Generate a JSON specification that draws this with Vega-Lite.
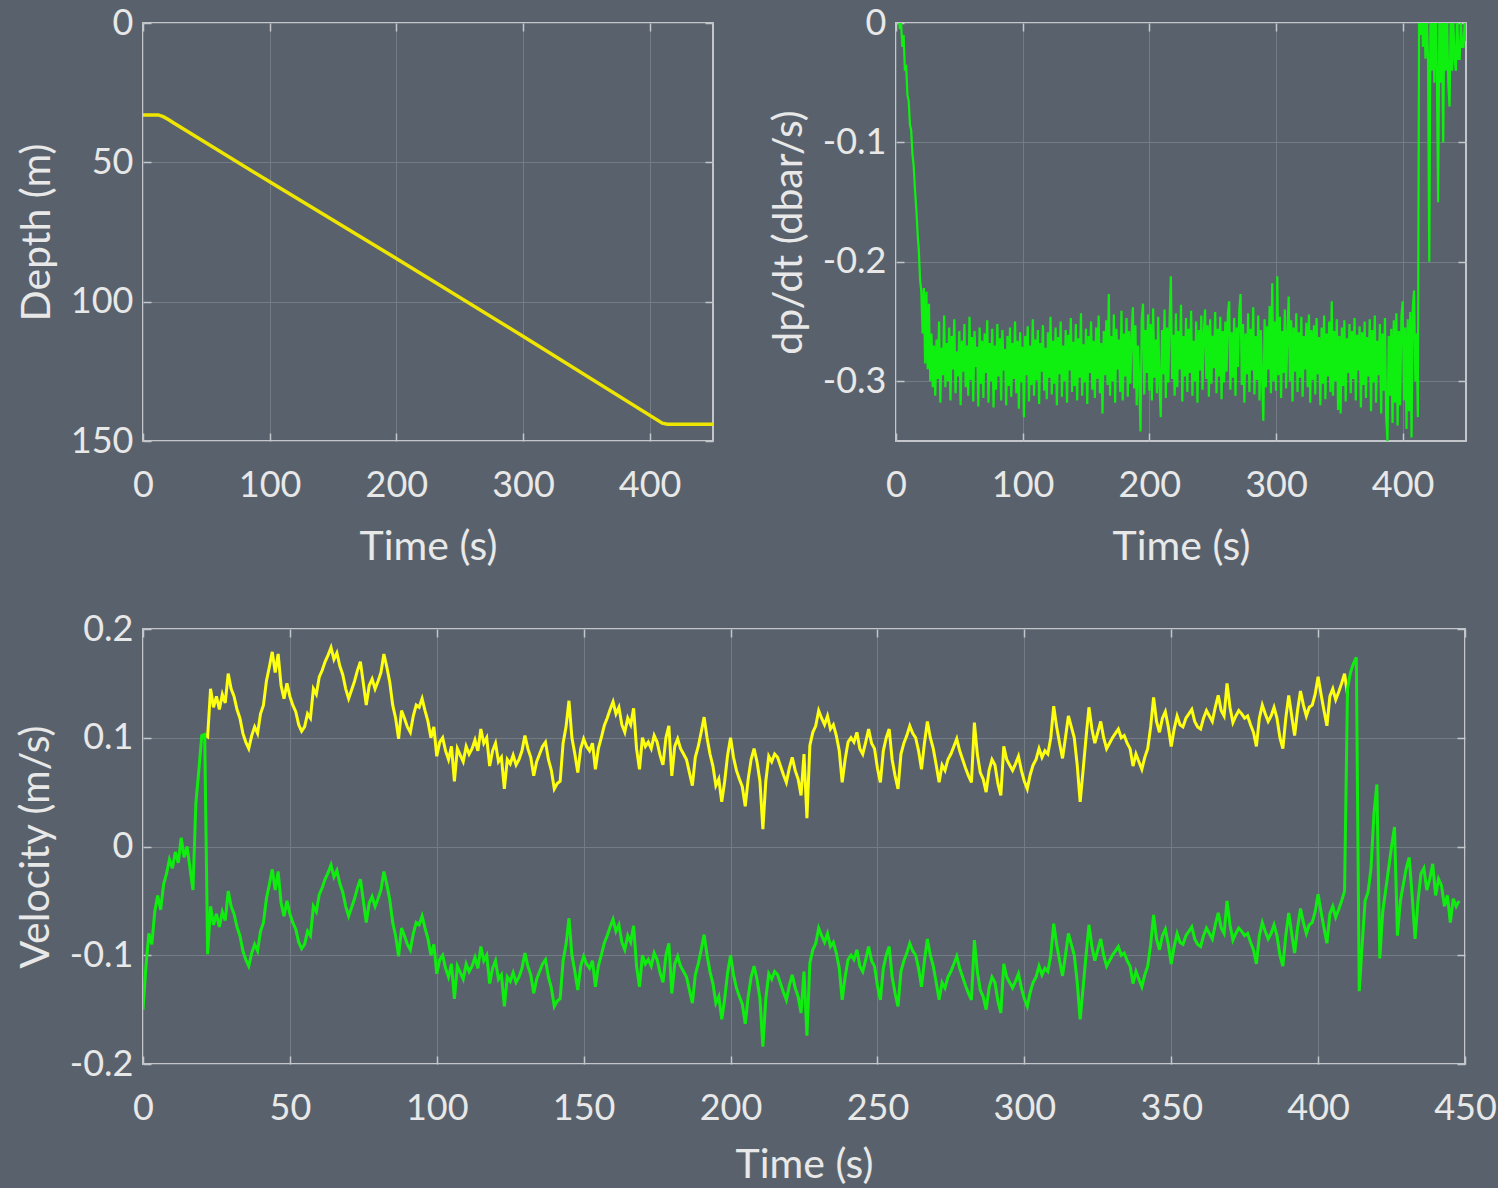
{
"$schema": "https://vega.github.io/schema/vega-lite/v6.json",
"background": "#59626c",
"padding": {"left": 14, "top": 4, "right": 4, "bottom": 4},
"spacing": 42,
"datasets": {
"depth": [{"t":0,"d":33},{"t":12,"d":33},{"t":16,"d":33.6},{"t":20,"d":34.6},{"t":24,"d":35.8},{"t":100,"d":57},{"t":200,"d":84.5},{"t":300,"d":112.4},{"t":410,"d":143.6},{"t":414,"d":144},{"t":450,"d":144}],
"dpdt": [{"t":0,"v":0.01},{"t":1,"v":0},{"t":2,"v":0.01},{"t":3,"v":-0.005},{"t":4,"v":0},{"t":5,"v":-0.02},{"t":6,"v":-0.01},{"t":7,"v":-0.04},{"t":8,"v":-0.035},{"t":9,"v":-0.06},{"t":10,"v":-0.065},{"t":11,"v":-0.085},{"t":12,"v":-0.09},{"t":13,"v":-0.11},{"t":14,"v":-0.12},{"t":15,"v":-0.14},{"t":16,"v":-0.155},{"t":17,"v":-0.175},{"t":18,"v":-0.19},{"t":19,"v":-0.215},{"t":20,"v":-0.225},{"t":21,"v":-0.26},{"t":22,"v":-0.222},{"t":23,"v":-0.285},{"t":24,"v":-0.225},{"t":25,"v":-0.29},{"t":26,"v":-0.235},{"t":27,"v":-0.3},{"t":28,"v":-0.26},{"t":29,"v":-0.305},{"t":30,"v":-0.27},
{"t":31,"v":-0.312},{"t":32,"v":-0.265},{"t":33,"v":-0.298},{"t":34,"v":-0.25},{"t":35,"v":-0.318},{"t":36,"v":-0.272},{"t":37,"v":-0.295},{"t":38,"v":-0.245},{"t":39,"v":-0.305},{"t":40,"v":-0.268},
{"t":41,"v":-0.3},{"t":42,"v":-0.255},{"t":43,"v":-0.316},{"t":44,"v":-0.262},{"t":45,"v":-0.29},{"t":46,"v":-0.248},{"t":47,"v":-0.31},{"t":48,"v":-0.275},{"t":49,"v":-0.296},{"t":50,"v":-0.258},
{"t":51,"v":-0.32},{"t":52,"v":-0.266},{"t":53,"v":-0.292},{"t":54,"v":-0.252},{"t":55,"v":-0.305},{"t":56,"v":-0.27},{"t":57,"v":-0.312},{"t":58,"v":-0.246},{"t":59,"v":-0.299},{"t":60,"v":-0.263},
{"t":61,"v":-0.317},{"t":62,"v":-0.258},{"t":63,"v":-0.288},{"t":64,"v":-0.271},{"t":65,"v":-0.321},{"t":66,"v":-0.255},{"t":67,"v":-0.302},{"t":68,"v":-0.266},{"t":69,"v":-0.314},{"t":70,"v":-0.26},
{"t":71,"v":-0.293},{"t":72,"v":-0.249},{"t":73,"v":-0.318},{"t":74,"v":-0.268},{"t":75,"v":-0.3},{"t":76,"v":-0.256},{"t":77,"v":-0.322},{"t":78,"v":-0.27},{"t":79,"v":-0.307},{"t":80,"v":-0.252},
{"t":81,"v":-0.296},{"t":82,"v":-0.264},{"t":83,"v":-0.316},{"t":84,"v":-0.257},{"t":85,"v":-0.291},{"t":86,"v":-0.273},{"t":87,"v":-0.32},{"t":88,"v":-0.262},{"t":89,"v":-0.304},{"t":90,"v":-0.255},
{"t":91,"v":-0.313},{"t":92,"v":-0.268},{"t":93,"v":-0.298},{"t":94,"v":-0.25},{"t":95,"v":-0.31},{"t":96,"v":-0.266},{"t":97,"v":-0.323},{"t":98,"v":-0.259},{"t":99,"v":-0.301},{"t":100,"v":-0.271},
{"t":101,"v":-0.33},{"t":102,"v":-0.262},{"t":103,"v":-0.295},{"t":104,"v":-0.254},{"t":105,"v":-0.317},{"t":106,"v":-0.27},{"t":107,"v":-0.303},{"t":108,"v":-0.248},{"t":109,"v":-0.312},{"t":110,"v":-0.265},
{"t":111,"v":-0.299},{"t":112,"v":-0.257},{"t":113,"v":-0.319},{"t":114,"v":-0.268},{"t":115,"v":-0.292},{"t":116,"v":-0.253},{"t":117,"v":-0.308},{"t":118,"v":-0.272},{"t":119,"v":-0.315},{"t":120,"v":-0.259},
{"t":121,"v":-0.297},{"t":122,"v":-0.246},{"t":123,"v":-0.311},{"t":124,"v":-0.266},{"t":125,"v":-0.302},{"t":126,"v":-0.255},{"t":127,"v":-0.32},{"t":128,"v":-0.263},{"t":129,"v":-0.294},{"t":130,"v":-0.25},
{"t":131,"v":-0.313},{"t":132,"v":-0.27},{"t":133,"v":-0.3},{"t":134,"v":-0.257},{"t":135,"v":-0.318},{"t":136,"v":-0.261},{"t":137,"v":-0.291},{"t":138,"v":-0.247},{"t":139,"v":-0.309},{"t":140,"v":-0.267},
{"t":141,"v":-0.304},{"t":142,"v":-0.252},{"t":143,"v":-0.316},{"t":144,"v":-0.264},{"t":145,"v":-0.297},{"t":146,"v":-0.243},{"t":147,"v":-0.312},{"t":148,"v":-0.269},{"t":149,"v":-0.301},{"t":150,"v":-0.256},
{"t":151,"v":-0.319},{"t":152,"v":-0.262},{"t":153,"v":-0.293},{"t":154,"v":-0.25},{"t":155,"v":-0.307},{"t":156,"v":-0.266},{"t":157,"v":-0.314},{"t":158,"v":-0.255},{"t":159,"v":-0.298},{"t":160,"v":-0.245},
{"t":161,"v":-0.31},{"t":162,"v":-0.268},{"t":163,"v":-0.327},{"t":164,"v":-0.258},{"t":165,"v":-0.295},{"t":166,"v":-0.249},{"t":167,"v":-0.303},{"t":168,"v":-0.227},{"t":169,"v":-0.312},{"t":170,"v":-0.262},
{"t":171,"v":-0.3},{"t":172,"v":-0.244},{"t":173,"v":-0.318},{"t":174,"v":-0.256},{"t":175,"v":-0.29},{"t":176,"v":-0.265},{"t":177,"v":-0.309},{"t":178,"v":-0.241},{"t":179,"v":-0.316},{"t":180,"v":-0.26},
{"t":181,"v":-0.296},{"t":182,"v":-0.247},{"t":183,"v":-0.313},{"t":184,"v":-0.258},{"t":185,"v":-0.302},{"t":186,"v":-0.262},{"t":187,"v":-0.238},{"t":188,"v":-0.306},{"t":189,"v":-0.253},{"t":190,"v":-0.32},
{"t":191,"v":-0.27},{"t":192,"v":-0.299},{"t":193,"v":-0.342},{"t":194,"v":-0.248},{"t":195,"v":-0.235},{"t":196,"v":-0.311},{"t":197,"v":-0.257},{"t":198,"v":-0.293},{"t":199,"v":-0.244},{"t":200,"v":-0.308},
{"t":201,"v":-0.252},{"t":202,"v":-0.316},{"t":203,"v":-0.239},{"t":204,"v":-0.297},{"t":205,"v":-0.265},{"t":206,"v":-0.31},{"t":207,"v":-0.246},{"t":208,"v":-0.302},{"t":209,"v":-0.33},{"t":210,"v":-0.257},
{"t":211,"v":-0.294},{"t":212,"v":-0.24},{"t":213,"v":-0.314},{"t":214,"v":-0.255},{"t":215,"v":-0.301},{"t":216,"v":-0.249},{"t":217,"v":-0.212},{"t":218,"v":-0.298},{"t":219,"v":-0.261},{"t":220,"v":-0.312},
{"t":221,"v":-0.243},{"t":222,"v":-0.305},{"t":223,"v":-0.258},{"t":224,"v":-0.29},{"t":225,"v":-0.236},{"t":226,"v":-0.317},{"t":227,"v":-0.262},{"t":228,"v":-0.296},{"t":229,"v":-0.247},{"t":230,"v":-0.309},
{"t":231,"v":-0.256},{"t":232,"v":-0.293},{"t":233,"v":-0.241},{"t":234,"v":-0.312},{"t":235,"v":-0.266},{"t":236,"v":-0.3},{"t":237,"v":-0.25},{"t":238,"v":-0.318},{"t":239,"v":-0.257},{"t":240,"v":-0.291},
{"t":241,"v":-0.245},{"t":242,"v":-0.307},{"t":243,"v":-0.26},{"t":244,"v":-0.24},{"t":245,"v":-0.298},{"t":246,"v":-0.253},{"t":247,"v":-0.313},{"t":248,"v":-0.248},{"t":249,"v":-0.302},{"t":250,"v":-0.262},
{"t":251,"v":-0.289},{"t":252,"v":-0.242},{"t":253,"v":-0.31},{"t":254,"v":-0.256},{"t":255,"v":-0.296},{"t":256,"v":-0.246},{"t":257,"v":-0.315},{"t":258,"v":-0.258},{"t":259,"v":-0.301},{"t":260,"v":-0.25},
{"t":261,"v":-0.292},{"t":262,"v":-0.244},{"t":263,"v":-0.233},{"t":264,"v":-0.307},{"t":265,"v":-0.259},{"t":266,"v":-0.297},{"t":267,"v":-0.247},{"t":268,"v":-0.312},{"t":269,"v":-0.255},{"t":270,"v":-0.288},
{"t":271,"v":-0.241},{"t":272,"v":-0.227},{"t":273,"v":-0.303},{"t":274,"v":-0.252},{"t":275,"v":-0.318},{"t":276,"v":-0.26},{"t":277,"v":-0.294},{"t":278,"v":-0.243},{"t":279,"v":-0.309},{"t":280,"v":-0.256},
{"t":281,"v":-0.291},{"t":282,"v":-0.238},{"t":283,"v":-0.311},{"t":284,"v":-0.262},{"t":285,"v":-0.299},{"t":286,"v":-0.245},{"t":287,"v":-0.316},{"t":288,"v":-0.257},{"t":289,"v":-0.296},{"t":290,"v":-0.333},
{"t":291,"v":-0.248},{"t":292,"v":-0.305},{"t":293,"v":-0.254},{"t":294,"v":-0.29},{"t":295,"v":-0.237},{"t":296,"v":-0.31},{"t":297,"v":-0.218},{"t":298,"v":-0.3},{"t":299,"v":-0.25},{"t":300,"v":-0.308},
{"t":301,"v":-0.212},{"t":302,"v":-0.295},{"t":303,"v":-0.246},{"t":304,"v":-0.314},{"t":305,"v":-0.258},{"t":306,"v":-0.293},{"t":307,"v":-0.24},{"t":308,"v":-0.306},{"t":309,"v":-0.261},{"t":310,"v":-0.229},
{"t":311,"v":-0.3},{"t":312,"v":-0.249},{"t":313,"v":-0.317},{"t":314,"v":-0.255},{"t":315,"v":-0.292},{"t":316,"v":-0.243},{"t":317,"v":-0.309},{"t":318,"v":-0.259},{"t":319,"v":-0.297},{"t":320,"v":-0.246},
{"t":321,"v":-0.313},{"t":322,"v":-0.262},{"t":323,"v":-0.29},{"t":324,"v":-0.251},{"t":325,"v":-0.305},{"t":326,"v":-0.244},{"t":327,"v":-0.318},{"t":328,"v":-0.257},{"t":329,"v":-0.299},{"t":330,"v":-0.253},
{"t":331,"v":-0.311},{"t":332,"v":-0.247},{"t":333,"v":-0.294},{"t":334,"v":-0.263},{"t":335,"v":-0.32},{"t":336,"v":-0.255},{"t":337,"v":-0.302},{"t":338,"v":-0.245},{"t":339,"v":-0.315},{"t":340,"v":-0.26},
{"t":341,"v":-0.296},{"t":342,"v":-0.25},{"t":343,"v":-0.309},{"t":344,"v":-0.233},{"t":345,"v":-0.312},{"t":346,"v":-0.258},{"t":347,"v":-0.3},{"t":348,"v":-0.248},{"t":349,"v":-0.324},{"t":350,"v":-0.262},
{"t":351,"v":-0.327},{"t":352,"v":-0.255},{"t":353,"v":-0.304},{"t":354,"v":-0.249},{"t":355,"v":-0.317},{"t":356,"v":-0.264},{"t":357,"v":-0.293},{"t":358,"v":-0.252},{"t":359,"v":-0.31},{"t":360,"v":-0.258},
{"t":361,"v":-0.298},{"t":362,"v":-0.247},{"t":363,"v":-0.316},{"t":364,"v":-0.261},{"t":365,"v":-0.291},{"t":366,"v":-0.254},{"t":367,"v":-0.322},{"t":368,"v":-0.259},{"t":369,"v":-0.303},{"t":370,"v":-0.25},
{"t":371,"v":-0.314},{"t":372,"v":-0.263},{"t":373,"v":-0.296},{"t":374,"v":-0.248},{"t":375,"v":-0.325},{"t":376,"v":-0.257},{"t":377,"v":-0.301},{"t":378,"v":-0.245},{"t":379,"v":-0.318},{"t":380,"v":-0.266},
{"t":381,"v":-0.295},{"t":382,"v":-0.252},{"t":383,"v":-0.327},{"t":384,"v":-0.26},{"t":385,"v":-0.308},{"t":386,"v":-0.247},{"t":387,"v":-0.33},{"t":388,"v":-0.35},{"t":389,"v":-0.262},{"t":390,"v":-0.312},
{"t":391,"v":-0.256},{"t":392,"v":-0.335},{"t":393,"v":-0.249},{"t":394,"v":-0.318},{"t":395,"v":-0.243},{"t":396,"v":-0.337},{"t":397,"v":-0.258},{"t":398,"v":-0.32},{"t":399,"v":-0.246},{"t":400,"v":-0.233},
{"t":401,"v":-0.316},{"t":402,"v":-0.255},{"t":403,"v":-0.34},{"t":404,"v":-0.248},{"t":405,"v":-0.325},{"t":406,"v":-0.242},{"t":407,"v":-0.347},{"t":408,"v":-0.238},{"t":409,"v":-0.224},{"t":410,"v":-0.3},
{"t":411,"v":-0.26},{"t":412,"v":-0.33},{"t":413,"v":0.02},{"t":414,"v":-0.01},{"t":415,"v":0.03},{"t":416,"v":-0.02},{"t":417,"v":0.02},{"t":418,"v":-0.03},{"t":419,"v":0.01},{"t":420,"v":-0.03},
{"t":421,"v":-0.2},{"t":422,"v":0.02},{"t":423,"v":-0.04},{"t":424,"v":0.01},{"t":425,"v":-0.05},{"t":426,"v":0.02},{"t":427,"v":-0.04},{"t":428,"v":-0.15},{"t":429,"v":0.01},{"t":430,"v":-0.05},
{"t":431,"v":0},{"t":432,"v":-0.1},{"t":433,"v":0.02},{"t":434,"v":-0.04},{"t":435,"v":0.01},{"t":436,"v":-0.05},{"t":437,"v":-0.07},{"t":438,"v":0.01},{"t":439,"v":-0.04},{"t":440,"v":0},
{"t":441,"v":-0.03},{"t":442,"v":-0.04},{"t":443,"v":0.01},{"t":444,"v":-0.03},{"t":445,"v":-0.03},{"t":446,"v":0},{"t":447,"v":-0.02},{"t":448,"v":-0.02},{"t":449,"v":0},{"t":450,"v":-0.015}],
"vel": [{"t":0,"g":-0.15},{"t":1,"g":-0.11},{"t":2,"g":-0.08},{"t":3,"g":-0.09},{"t":4,"g":-0.06},{"t":5,"g":-0.045},{"t":6,"g":-0.058},{"t":7,"g":-0.035},{"t":8,"g":-0.025},{"t":9,"g":-0.012},{"t":10,"g":-0.02},{"t":11,"g":-0.005},{"t":12,"g":-0.015},{"t":13,"g":0.008},{"t":14,"g":-0.01},{"t":15,"g":0},{"t":16,"g":-0.02},{"t":17,"g":-0.04},{"t":18,"g":0.04},{"t":19,"g":0.07},{"t":20,"g":0.102},
{"t":21,"y":0.103,"g":0.103},{"t":22,"y":0.101,"g":-0.099},{"t":23,"y":0.145,"g":-0.055},{"t":24,"y":0.128,"g":-0.072},{"t":25,"y":0.138,"g":-0.062},{"t":26,"y":0.126,"g":-0.074},{"t":27,"y":0.14,"g":-0.06},{"t":28,"y":0.132,"g":-0.068},{"t":29,"y":0.159,"g":-0.041},{"t":30,"y":0.145,"g":-0.055},
{"t":31,"y":0.138,"g":-0.062},{"t":32,"y":0.126,"g":-0.074},{"t":33,"y":0.118,"g":-0.082},{"t":34,"y":0.104,"g":-0.096},{"t":35,"y":0.096,"g":-0.104},{"t":36,"y":0.09,"g":-0.11},{"t":37,"y":0.102,"g":-0.098},{"t":38,"y":0.11,"g":-0.09},{"t":39,"y":0.104,"g":-0.096},{"t":40,"y":0.122,"g":-0.078},
{"t":41,"y":0.13,"g":-0.07},{"t":42,"y":0.152,"g":-0.048},{"t":43,"y":0.165,"g":-0.035},{"t":44,"y":0.179,"g":-0.021},{"t":45,"y":0.16,"g":-0.04},{"t":46,"y":0.177,"g":-0.023},{"t":47,"y":0.148,"g":-0.052},{"t":48,"y":0.136,"g":-0.064},{"t":49,"y":0.15,"g":-0.05},{"t":50,"y":0.138,"g":-0.062},
{"t":51,"y":0.13,"g":-0.07},{"t":52,"y":0.124,"g":-0.076},{"t":53,"y":0.112,"g":-0.088},{"t":54,"y":0.106,"g":-0.094},{"t":55,"y":0.11,"g":-0.09},{"t":56,"y":0.122,"g":-0.078},{"t":57,"y":0.118,"g":-0.082},{"t":58,"y":0.145,"g":-0.055},{"t":59,"y":0.14,"g":-0.06},{"t":60,"y":0.156,"g":-0.044},
{"t":61,"y":0.162,"g":-0.038},{"t":62,"y":0.17,"g":-0.03},{"t":63,"y":0.176,"g":-0.024},{"t":64,"y":0.183,"g":-0.017},{"t":65,"y":0.172,"g":-0.028},{"t":66,"y":0.178,"g":-0.022},{"t":67,"y":0.166,"g":-0.034},{"t":68,"y":0.158,"g":-0.042},{"t":69,"y":0.145,"g":-0.055},{"t":70,"y":0.136,"g":-0.064},
{"t":71,"y":0.144,"g":-0.056},{"t":72,"y":0.152,"g":-0.048},{"t":73,"y":0.162,"g":-0.038},{"t":74,"y":0.17,"g":-0.03},{"t":75,"y":0.15,"g":-0.05},{"t":76,"y":0.13,"g":-0.07},{"t":77,"y":0.148,"g":-0.052},{"t":78,"y":0.154,"g":-0.046},{"t":79,"y":0.145,"g":-0.055},{"t":80,"y":0.152,"g":-0.048},
{"t":81,"y":0.16,"g":-0.04},{"t":82,"y":0.177,"g":-0.023},{"t":83,"y":0.165,"g":-0.035},{"t":84,"y":0.151,"g":-0.049},{"t":85,"y":0.13,"g":-0.07},{"t":86,"y":0.118,"g":-0.082},{"t":87,"y":0.099,"g":-0.101},{"t":88,"y":0.125,"g":-0.075},{"t":89,"y":0.118,"g":-0.082},{"t":90,"y":0.11,"g":-0.09},
{"t":91,"y":0.105,"g":-0.095},{"t":92,"y":0.12,"g":-0.08},{"t":93,"y":0.13,"g":-0.07},{"t":94,"y":0.128,"g":-0.072},{"t":95,"y":0.136,"g":-0.064},{"t":96,"y":0.125,"g":-0.075},{"t":97,"y":0.115,"g":-0.085},{"t":98,"y":0.1,"g":-0.1},{"t":99,"y":0.11,"g":-0.09},{"t":100,"y":0.083,"g":-0.117},
{"t":101,"y":0.096,"g":-0.104},{"t":102,"y":0.1,"g":-0.1},{"t":103,"y":0.088,"g":-0.112},{"t":104,"y":0.08,"g":-0.12},{"t":105,"y":0.092,"g":-0.108},{"t":106,"y":0.06,"g":-0.14},{"t":107,"y":0.09,"g":-0.11},{"t":108,"y":0.084,"g":-0.116},{"t":109,"y":0.078,"g":-0.122},{"t":110,"y":0.092,"g":-0.108},
{"t":111,"y":0.085,"g":-0.115},{"t":112,"y":0.09,"g":-0.11},{"t":113,"y":0.098,"g":-0.102},{"t":114,"y":0.088,"g":-0.112},{"t":115,"y":0.108,"g":-0.092},{"t":116,"y":0.095,"g":-0.105},{"t":117,"y":0.1,"g":-0.1},{"t":118,"y":0.074,"g":-0.126},{"t":119,"y":0.088,"g":-0.112},{"t":120,"y":0.095,"g":-0.105},
{"t":121,"y":0.078,"g":-0.122},{"t":122,"y":0.082,"g":-0.118},{"t":123,"y":0.053,"g":-0.147},{"t":124,"y":0.08,"g":-0.12},{"t":125,"y":0.076,"g":-0.124},{"t":126,"y":0.084,"g":-0.116},{"t":127,"y":0.075,"g":-0.125},{"t":128,"y":0.08,"g":-0.12},{"t":129,"y":0.088,"g":-0.112},{"t":130,"y":0.102,"g":-0.098},
{"t":131,"y":0.09,"g":-0.11},{"t":132,"y":0.082,"g":-0.118},{"t":133,"y":0.065,"g":-0.135},{"t":134,"y":0.078,"g":-0.122},{"t":135,"y":0.085,"g":-0.115},{"t":136,"y":0.092,"g":-0.108},{"t":137,"y":0.096,"g":-0.104},{"t":138,"y":0.08,"g":-0.12},{"t":139,"y":0.07,"g":-0.13},{"t":140,"y":0.053,"g":-0.147},
{"t":141,"y":0.058,"g":-0.142},{"t":142,"y":0.06,"g":-0.14},{"t":143,"y":0.095,"g":-0.105},{"t":144,"y":0.11,"g":-0.09},{"t":145,"y":0.134,"g":-0.066},{"t":146,"y":0.1,"g":-0.1},{"t":147,"y":0.085,"g":-0.115},{"t":148,"y":0.068,"g":-0.132},{"t":149,"y":0.09,"g":-0.11},{"t":150,"y":0.099,"g":-0.101},
{"t":151,"y":0.092,"g":-0.108},{"t":152,"y":0.088,"g":-0.112},{"t":153,"y":0.095,"g":-0.105},{"t":154,"y":0.071,"g":-0.129},{"t":155,"y":0.09,"g":-0.11},{"t":156,"y":0.1,"g":-0.1},{"t":157,"y":0.111,"g":-0.089},{"t":158,"y":0.118,"g":-0.082},{"t":159,"y":0.126,"g":-0.074},{"t":160,"y":0.133,"g":-0.067},
{"t":161,"y":0.122,"g":-0.078},{"t":162,"y":0.128,"g":-0.072},{"t":163,"y":0.112,"g":-0.088},{"t":164,"y":0.105,"g":-0.095},{"t":165,"y":0.118,"g":-0.082},{"t":166,"y":0.112,"g":-0.088},{"t":167,"y":0.127,"g":-0.073},{"t":168,"y":0.09,"g":-0.11},{"t":169,"y":0.071,"g":-0.129},{"t":170,"y":0.1,"g":-0.1},
{"t":171,"y":0.092,"g":-0.108},{"t":172,"y":0.096,"g":-0.104},{"t":173,"y":0.09,"g":-0.11},{"t":174,"y":0.102,"g":-0.098},{"t":175,"y":0.096,"g":-0.104},{"t":176,"y":0.084,"g":-0.116},{"t":177,"y":0.075,"g":-0.125},{"t":178,"y":0.1,"g":-0.1},{"t":179,"y":0.111,"g":-0.089},{"t":180,"y":0.065,"g":-0.135},
{"t":181,"y":0.092,"g":-0.108},{"t":182,"y":0.099,"g":-0.101},{"t":183,"y":0.09,"g":-0.11},{"t":184,"y":0.085,"g":-0.115},{"t":185,"y":0.08,"g":-0.12},{"t":186,"y":0.068,"g":-0.132},{"t":187,"y":0.056,"g":-0.144},{"t":188,"y":0.082,"g":-0.118},{"t":189,"y":0.092,"g":-0.108},{"t":190,"y":0.105,"g":-0.095},
{"t":191,"y":0.119,"g":-0.081},{"t":192,"y":0.1,"g":-0.1},{"t":193,"y":0.085,"g":-0.115},{"t":194,"y":0.074,"g":-0.126},{"t":195,"y":0.056,"g":-0.144},{"t":196,"y":0.062,"g":-0.138},{"t":197,"y":0.041,"g":-0.159},{"t":198,"y":0.06,"g":-0.14},{"t":199,"y":0.084,"g":-0.116},{"t":200,"y":0.1,"g":-0.1},
{"t":201,"y":0.082,"g":-0.118},{"t":202,"y":0.07,"g":-0.13},{"t":203,"y":0.062,"g":-0.138},{"t":204,"y":0.055,"g":-0.145},{"t":205,"y":0.037,"g":-0.163},{"t":206,"y":0.062,"g":-0.138},{"t":207,"y":0.08,"g":-0.12},{"t":208,"y":0.09,"g":-0.11},{"t":209,"y":0.078,"g":-0.122},{"t":210,"y":0.06,"g":-0.14},
{"t":211,"y":0.016,"g":-0.184},{"t":212,"y":0.06,"g":-0.14},{"t":213,"y":0.083,"g":-0.117},{"t":214,"y":0.078,"g":-0.122},{"t":215,"y":0.085,"g":-0.115},{"t":216,"y":0.082,"g":-0.118},{"t":217,"y":0.074,"g":-0.126},{"t":218,"y":0.066,"g":-0.134},{"t":219,"y":0.059,"g":-0.141},{"t":220,"y":0.072,"g":-0.128},
{"t":221,"y":0.082,"g":-0.118},{"t":222,"y":0.07,"g":-0.13},{"t":223,"y":0.062,"g":-0.138},{"t":224,"y":0.047,"g":-0.153},{"t":225,"y":0.085,"g":-0.115},{"t":226,"y":0.026,"g":-0.174},{"t":227,"y":0.093,"g":-0.107},{"t":228,"y":0.105,"g":-0.095},{"t":229,"y":0.111,"g":-0.089},{"t":230,"y":0.125,"g":-0.075},
{"t":231,"y":0.118,"g":-0.082},{"t":232,"y":0.112,"g":-0.088},{"t":233,"y":0.12,"g":-0.08},{"t":234,"y":0.108,"g":-0.092},{"t":235,"y":0.112,"g":-0.088},{"t":236,"y":0.102,"g":-0.098},{"t":237,"y":0.088,"g":-0.112},{"t":238,"y":0.059,"g":-0.141},{"t":239,"y":0.08,"g":-0.12},{"t":240,"y":0.096,"g":-0.104},
{"t":241,"y":0.1,"g":-0.1},{"t":242,"y":0.096,"g":-0.104},{"t":243,"y":0.105,"g":-0.095},{"t":244,"y":0.09,"g":-0.11},{"t":245,"y":0.085,"g":-0.115},{"t":246,"y":0.096,"g":-0.104},{"t":247,"y":0.108,"g":-0.092},{"t":248,"y":0.095,"g":-0.105},{"t":249,"y":0.09,"g":-0.11},{"t":250,"y":0.072,"g":-0.128},
{"t":251,"y":0.059,"g":-0.141},{"t":252,"y":0.088,"g":-0.112},{"t":253,"y":0.1,"g":-0.1},{"t":254,"y":0.108,"g":-0.092},{"t":255,"y":0.08,"g":-0.12},{"t":256,"y":0.065,"g":-0.135},{"t":257,"y":0.053,"g":-0.147},{"t":258,"y":0.085,"g":-0.115},{"t":259,"y":0.095,"g":-0.105},{"t":260,"y":0.102,"g":-0.098},
{"t":261,"y":0.111,"g":-0.089},{"t":262,"y":0.104,"g":-0.096},{"t":263,"y":0.1,"g":-0.1},{"t":264,"y":0.088,"g":-0.112},{"t":265,"y":0.071,"g":-0.129},{"t":266,"y":0.095,"g":-0.105},{"t":267,"y":0.115,"g":-0.085},{"t":268,"y":0.1,"g":-0.1},{"t":269,"y":0.09,"g":-0.11},{"t":270,"y":0.075,"g":-0.125},
{"t":271,"y":0.059,"g":-0.141},{"t":272,"y":0.075,"g":-0.125},{"t":273,"y":0.07,"g":-0.13},{"t":274,"y":0.08,"g":-0.12},{"t":275,"y":0.085,"g":-0.115},{"t":276,"y":0.092,"g":-0.108},{"t":277,"y":0.099,"g":-0.101},{"t":278,"y":0.088,"g":-0.112},{"t":279,"y":0.08,"g":-0.12},{"t":280,"y":0.072,"g":-0.128},
{"t":281,"y":0.065,"g":-0.135},{"t":282,"y":0.059,"g":-0.141},{"t":283,"y":0.114,"g":-0.086},{"t":284,"y":0.085,"g":-0.115},{"t":285,"y":0.068,"g":-0.132},{"t":286,"y":0.062,"g":-0.138},{"t":287,"y":0.05,"g":-0.15},{"t":288,"y":0.07,"g":-0.13},{"t":289,"y":0.08,"g":-0.12},{"t":290,"y":0.075,"g":-0.125},
{"t":291,"y":0.058,"g":-0.142},{"t":292,"y":0.047,"g":-0.153},{"t":293,"y":0.092,"g":-0.108},{"t":294,"y":0.08,"g":-0.12},{"t":295,"y":0.075,"g":-0.125},{"t":296,"y":0.07,"g":-0.13},{"t":297,"y":0.076,"g":-0.124},{"t":298,"y":0.083,"g":-0.117},{"t":299,"y":0.07,"g":-0.13},{"t":300,"y":0.06,"g":-0.14},
{"t":301,"y":0.053,"g":-0.147},{"t":302,"y":0.066,"g":-0.134},{"t":303,"y":0.075,"g":-0.125},{"t":304,"y":0.08,"g":-0.12},{"t":305,"y":0.09,"g":-0.11},{"t":306,"y":0.082,"g":-0.118},{"t":307,"y":0.088,"g":-0.112},{"t":308,"y":0.085,"g":-0.115},{"t":309,"y":0.1,"g":-0.1},{"t":310,"y":0.129,"g":-0.071},
{"t":311,"y":0.11,"g":-0.09},{"t":312,"y":0.095,"g":-0.105},{"t":313,"y":0.081,"g":-0.119},{"t":314,"y":0.1,"g":-0.1},{"t":315,"y":0.12,"g":-0.08},{"t":316,"y":0.11,"g":-0.09},{"t":317,"y":0.1,"g":-0.1},{"t":318,"y":0.075,"g":-0.125},{"t":319,"y":0.041,"g":-0.159},{"t":320,"y":0.07,"g":-0.13},
{"t":321,"y":0.1,"g":-0.1},{"t":322,"y":0.128,"g":-0.072},{"t":323,"y":0.108,"g":-0.092},{"t":324,"y":0.095,"g":-0.105},{"t":325,"y":0.105,"g":-0.095},{"t":326,"y":0.115,"g":-0.085},{"t":327,"y":0.1,"g":-0.1},{"t":328,"y":0.09,"g":-0.11},{"t":329,"y":0.095,"g":-0.105},{"t":330,"y":0.1,"g":-0.1},
{"t":331,"y":0.104,"g":-0.096},{"t":332,"y":0.108,"g":-0.092},{"t":333,"y":0.1,"g":-0.1},{"t":334,"y":0.102,"g":-0.098},{"t":335,"y":0.095,"g":-0.105},{"t":336,"y":0.09,"g":-0.11},{"t":337,"y":0.074,"g":-0.126},{"t":338,"y":0.085,"g":-0.115},{"t":339,"y":0.078,"g":-0.122},{"t":340,"y":0.071,"g":-0.129},
{"t":341,"y":0.082,"g":-0.118},{"t":342,"y":0.09,"g":-0.11},{"t":343,"y":0.11,"g":-0.09},{"t":344,"y":0.137,"g":-0.063},{"t":345,"y":0.115,"g":-0.085},{"t":346,"y":0.105,"g":-0.095},{"t":347,"y":0.118,"g":-0.082},{"t":348,"y":0.124,"g":-0.076},{"t":349,"y":0.11,"g":-0.09},{"t":350,"y":0.092,"g":-0.108},
{"t":351,"y":0.108,"g":-0.092},{"t":352,"y":0.12,"g":-0.08},{"t":353,"y":0.112,"g":-0.088},{"t":354,"y":0.11,"g":-0.09},{"t":355,"y":0.118,"g":-0.082},{"t":356,"y":0.122,"g":-0.078},{"t":357,"y":0.126,"g":-0.074},{"t":358,"y":0.115,"g":-0.085},{"t":359,"y":0.11,"g":-0.09},{"t":360,"y":0.108,"g":-0.092},
{"t":361,"y":0.118,"g":-0.082},{"t":362,"y":0.125,"g":-0.075},{"t":363,"y":0.12,"g":-0.08},{"t":364,"y":0.115,"g":-0.085},{"t":365,"y":0.128,"g":-0.072},{"t":366,"y":0.139,"g":-0.061},{"t":367,"y":0.125,"g":-0.075},{"t":368,"y":0.12,"g":-0.08},{"t":369,"y":0.15,"g":-0.05},{"t":370,"y":0.128,"g":-0.072},
{"t":371,"y":0.114,"g":-0.086},{"t":372,"y":0.12,"g":-0.08},{"t":373,"y":0.125,"g":-0.075},{"t":374,"y":0.122,"g":-0.078},{"t":375,"y":0.118,"g":-0.082},{"t":376,"y":0.12,"g":-0.08},{"t":377,"y":0.112,"g":-0.088},{"t":378,"y":0.105,"g":-0.095},{"t":379,"y":0.092,"g":-0.108},{"t":380,"y":0.118,"g":-0.082},
{"t":381,"y":0.13,"g":-0.07},{"t":382,"y":0.122,"g":-0.078},{"t":383,"y":0.115,"g":-0.085},{"t":384,"y":0.12,"g":-0.08},{"t":385,"y":0.128,"g":-0.072},{"t":386,"y":0.118,"g":-0.082},{"t":387,"y":0.1,"g":-0.1},{"t":388,"y":0.09,"g":-0.11},{"t":389,"y":0.118,"g":-0.082},{"t":390,"y":0.139,"g":-0.061},
{"t":391,"y":0.12,"g":-0.08},{"t":392,"y":0.102,"g":-0.098},{"t":393,"y":0.125,"g":-0.075},{"t":394,"y":0.143,"g":-0.057},{"t":395,"y":0.13,"g":-0.07},{"t":396,"y":0.12,"g":-0.08},{"t":397,"y":0.128,"g":-0.072},{"t":398,"y":0.13,"g":-0.07},{"t":399,"y":0.14,"g":-0.06},{"t":400,"y":0.156,"g":-0.044},
{"t":401,"y":0.14,"g":-0.06},{"t":402,"y":0.125,"g":-0.075},{"t":403,"y":0.111,"g":-0.089},{"t":404,"y":0.138,"g":-0.062},{"t":405,"y":0.145,"g":-0.055},{"t":406,"y":0.135,"g":-0.065},{"t":407,"y":0.142,"g":-0.058},{"t":408,"y":0.15,"g":-0.05},{"t":409,"y":0.159,"g":-0.041},{"t":410,"y":0.14,"g":0.145},
{"t":411,"g":0.16},{"t":412,"g":0.168},{"t":413,"g":0.174},{"t":414,"g":-0.133},{"t":415,"g":-0.09},{"t":416,"g":-0.05},{"t":417,"g":-0.042},{"t":418,"g":-0.02},{"t":419,"g":0.03},{"t":420,"g":0.057},
{"t":421,"g":-0.103},{"t":422,"g":-0.06},{"t":423,"g":-0.04},{"t":424,"g":-0.02},{"t":425,"g":0},{"t":426,"g":0.018},{"t":427,"g":-0.082},{"t":428,"g":-0.05},{"t":429,"g":-0.035},{"t":430,"g":-0.02},
{"t":431,"g":-0.01},{"t":432,"g":-0.045},{"t":433,"g":-0.085},{"t":434,"g":-0.05},{"t":435,"g":-0.025},{"t":436,"g":-0.02},{"t":437,"g":-0.04},{"t":438,"g":-0.03},{"t":439,"g":-0.016},{"t":440,"g":-0.045},
{"t":441,"g":-0.03},{"t":442,"g":-0.036},{"t":443,"g":-0.055},{"t":444,"g":-0.045},{"t":445,"g":-0.07},{"t":446,"g":-0.048},{"t":447,"g":-0.055},{"t":448,"g":-0.05}]
},
"vconcat": [
{"hconcat": [
 {"width": 570, "height": 418, "data": {"name": "depth"},
  "resolve": {"axis": {"x": "independent", "y": "independent"}},
  "layer": [
   {"mark": {"type": "line", "color": "#eee600", "strokeWidth": 3.5, "clip": true},
    "encoding": {
     "x": {"field": "t", "type": "quantitative", "scale": {"domain": [0, 450], "nice": false}, "axis": {"values": [0, 100, 200, 300, 400], "title": "Time (s)"}},
     "y": {"field": "d", "type": "quantitative", "scale": {"domain": [0, 150], "reverse": true, "nice": false, "zero": false}, "axis": {"values": [0, 50, 100, 150], "title": "Depth (m)"}}
    }},
   {"mark": {"type": "line", "opacity": 0},
    "encoding": {
     "x": {"field": "t", "type": "quantitative", "axis": {"orient": "top", "values": [0, 100, 200, 300, 400], "labels": false, "grid": false, "title": null}},
     "y": {"field": "d", "type": "quantitative", "axis": {"orient": "right", "values": [0, 50, 100, 150], "labels": false, "grid": false, "title": null}}
    }}
  ]},
 {"width": 570, "height": 418, "data": {"name": "dpdt"},
  "resolve": {"axis": {"x": "independent", "y": "independent"}},
  "layer": [
   {"mark": {"type": "line", "color": "#10f010", "strokeWidth": 2.2, "clip": true},
    "encoding": {
     "x": {"field": "t", "type": "quantitative", "scale": {"domain": [0, 450], "nice": false}, "axis": {"values": [0, 100, 200, 300, 400], "title": "Time (s)"}},
     "y": {"field": "v", "type": "quantitative", "scale": {"domain": [-0.35, 0], "nice": false, "zero": false}, "axis": {"values": [0, -0.1, -0.2, -0.3], "title": "dp/dt (dbar/s)", "labelExpr": "datum.value == 0 ? '0' : replace(format(datum.value, '.1f'), '\u2212', '-')"}}
    }},
   {"mark": {"type": "line", "opacity": 0, "clip": true},
    "encoding": {
     "x": {"field": "t", "type": "quantitative", "axis": {"orient": "top", "values": [0, 100, 200, 300, 400], "labels": false, "grid": false, "title": null}},
     "y": {"field": "v", "type": "quantitative", "axis": {"orient": "right", "values": [0, -0.1, -0.2, -0.3], "labels": false, "grid": false, "title": null}}
    }}
  ]}
 ], "spacing": 52},
{"width": 1322, "height": 435, "data": {"name": "vel"},
 "resolve": {"axis": {"x": "independent", "y": "independent"}},
 "layer": [
  {"mark": {"type": "line", "color": "#ffff10", "strokeWidth": 3, "clip": true},
   "encoding": {
    "x": {"field": "t", "type": "quantitative", "scale": {"domain": [0, 450], "nice": false}, "axis": {"values": [0, 50, 100, 150, 200, 250, 300, 350, 400, 450], "title": "Time (s)", "titlePadding": 19}},
    "y": {"field": "y", "type": "quantitative", "scale": {"domain": [-0.2, 0.2], "nice": false, "zero": false}, "axis": {"values": [-0.2, -0.1, 0, 0.1, 0.2], "title": "Velocity (m/s)", "labelExpr": "datum.value == 0 ? '0' : replace(format(datum.value, '.1f'), '\u2212', '-')"}}}},
  {"mark": {"type": "line", "color": "#10ec10", "strokeWidth": 3, "clip": true},
   "encoding": {
    "x": {"field": "t", "type": "quantitative", "axis": {"orient": "top", "values": [0, 50, 100, 150, 200, 250, 300, 350, 400, 450], "labels": false, "grid": false, "title": null}},
    "y": {"field": "g", "type": "quantitative", "axis": {"orient": "right", "values": [-0.2, -0.1, 0, 0.1, 0.2], "labels": false, "grid": false, "title": null}}}}
 ]}
],
"config": {
 "view": {"stroke": "#c3c7cb", "strokeWidth": 2},
 "axis": {"domain": false, "grid": true, "gridColor": "#737b84", "gridWidth": 1, "tickColor": "#c3c7cb", "tickSize": -8, "tickWidth": 1.5, "labelColor": "#e8e8e8", "labelFont": "Lato", "labelFontSize": 36, "titleColor": "#e8e8e8", "titleFont": "Lato", "titleFontSize": 41, "titleFontWeight": "normal", "labelPadding": 18, "labelFlush": false, "labelOverlap": false},
 "axisX": {"labelPadding": 35, "titlePadding": 24},
 "axisY": {"titlePadding": 12}
}
}
